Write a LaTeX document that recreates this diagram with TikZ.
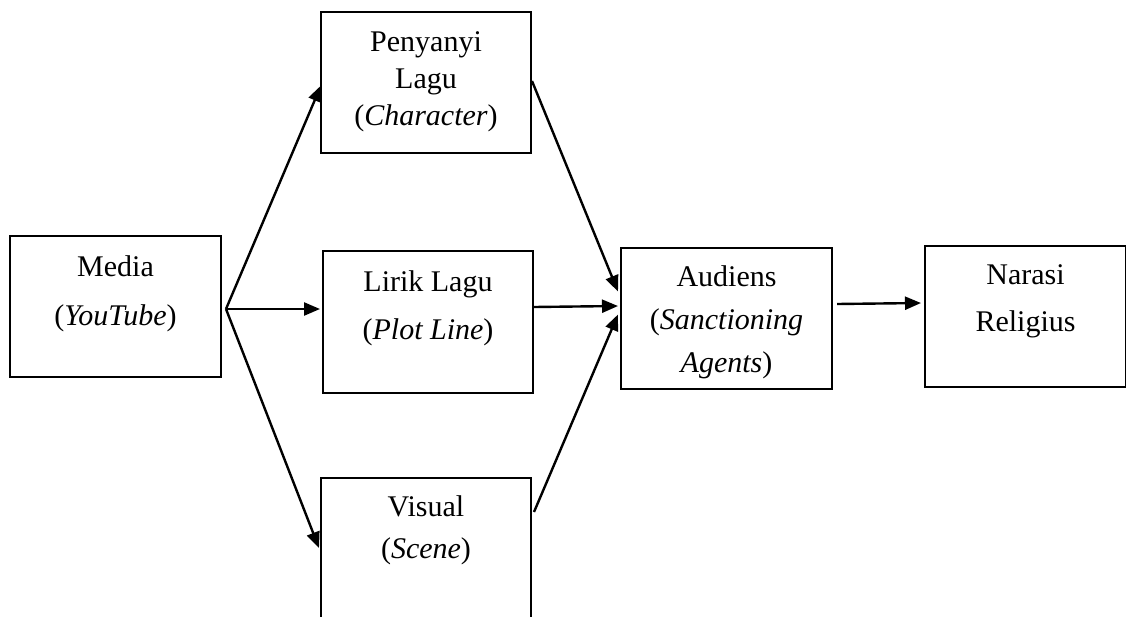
\documentclass[tikz,border=0pt]{standalone}
\usepackage{fontspec}
\setmainfont{Liberation Serif}
\usetikzlibrary{arrows.meta}
\newcommand{\boxtext}[5]{\parbox[c][#2pt][t]{#1pt}{\centering\fontsize{30}{#4pt}\selectfont\rule{0pt}{#3pt}#5}}
\tikzset{
  box/.style={draw, line width=2pt, inner sep=0pt, anchor=north west},
  conn/.style={line width=2.4pt, -{Triangle[length=16pt,width=13pt]}},
}
\begin{document}
\begin{tikzpicture}[x=1pt,y=-1pt]
\useasboundingbox (0,0) rectangle (1126,616);
\node[box] (media) at (9,235) {\boxtext{211}{141}{40}{49}{Media\\(\textit{YouTube})}};
\node[box] (pen) at (320,11) {\boxtext{210}{141}{39}{37}{Penyanyi\\Lagu\\(\textit{Character})}};
\node[box] (lir) at (322,250) {\boxtext{210}{142}{40}{48}{Lirik Lagu\\(\textit{Plot Line})}};
\node[box] (vis) at (320,477) {\boxtext{210}{160}{38}{42}{Visual\\(\textit{Scene})}};
\node[box] (aud) at (620,247) {\boxtext{211}{141}{38}{43}{Audiens\\(\textit{Sanctioning}\\\textit{Agents})}};
\node[box] (nar) at (924,245) {\boxtext{201}{141}{38}{47}{Narasi\\Religius}};
\coordinate (src) at ([xshift=4pt,yshift=-2.5pt]media.east);
\draw[conn] (src) -- ([yshift=-3pt,xshift=1pt]pen.west);
\draw[conn] (src) -- ([xshift=-2pt]lir.west |- src);
\draw[conn] (src) -- ([xshift=-1pt]vis.north west |- 0,548);
\draw[conn] ([yshift=1.5pt]pen.east) -- ([xshift=-2pt,yshift=27pt]aud.west);
\draw[conn] ([yshift=15pt]lir.east) -- ([xshift=-2pt]aud.west |- 0,306);
\draw[conn] ([xshift=2pt]vis.north east |- 0,512) -- ([xshift=-2pt,yshift=4pt]aud.west);
\draw[conn] ([xshift=4pt,yshift=14.5pt]aud.east) -- ([xshift=-3pt]nar.west |- 0,303);
\end{tikzpicture}
\end{document}
